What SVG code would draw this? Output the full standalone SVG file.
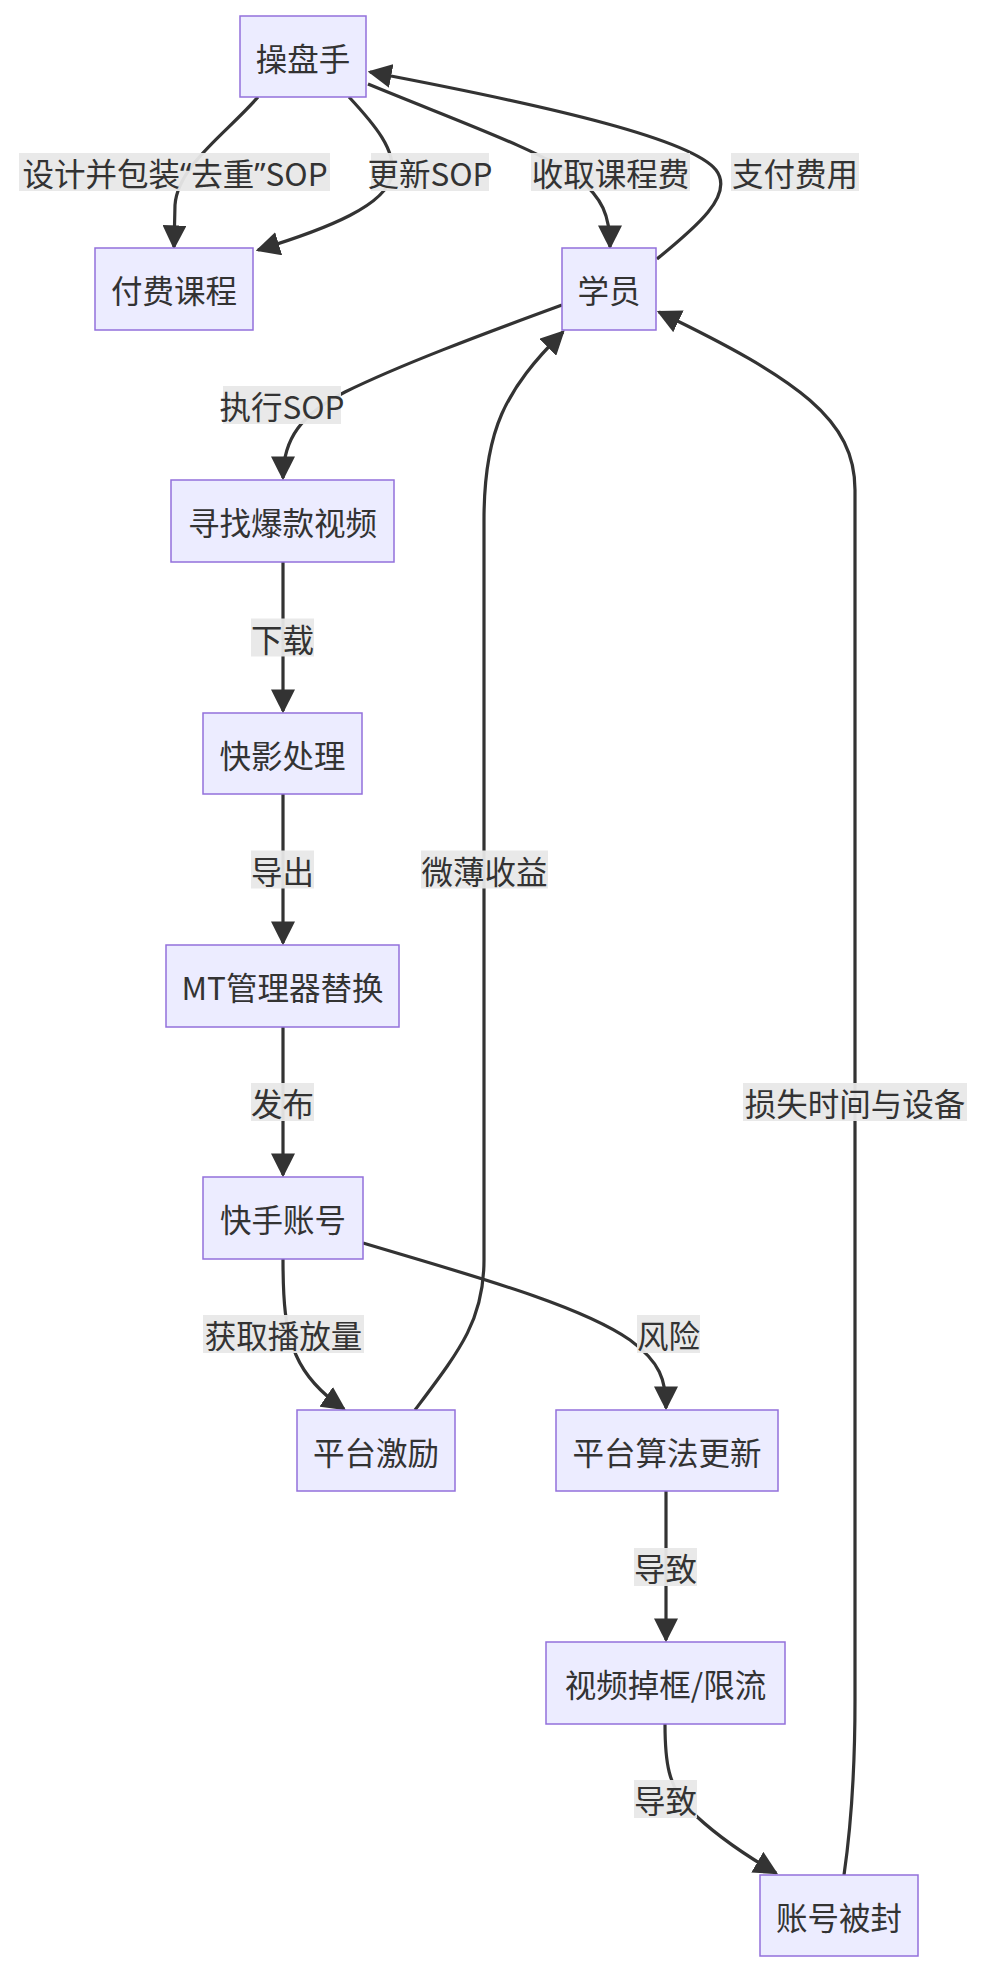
<svg xmlns="http://www.w3.org/2000/svg" width="984" height="1974" viewBox="0 0 984 1974">
<style>
.node rect{fill:#ECECFF;stroke:#9370DB;stroke-width:1.5}
text{font-family:"Noto Sans CJK SC","Noto Sans",sans-serif;font-size:31.5px;fill:#333333;text-anchor:middle;dominant-baseline:central}
.q{font-family:"Noto Sans","Liberation Sans",sans-serif}
.edge{fill:none;stroke:#333333;stroke-width:3.2}
.lbl rect{fill:#e8e8e8;fill-opacity:0.95}
</style>
<defs>
<marker id="arr" viewBox="0 0 10 10" refX="9" refY="5" markerUnits="userSpaceOnUse" markerWidth="24" markerHeight="24" orient="auto">
<path d="M0,0 L10,5 L0,10 z" fill="#333333"/>
</marker>
</defs>
<rect width="984" height="1974" fill="#ffffff"/>
<g id="edges">
<path class="edge" marker-end="url(#arr)" d="M258,97 C228,132 178,165 175,205 L174,247"/>
<path class="edge" marker-end="url(#arr)" d="M349,97 C375,125 396,150 392,175 C386,205 330,228 258,250"/>
<path class="edge" marker-end="url(#arr)" d="M368,84 C460,122 540,150 578,178 C602,198 610,215 610,247"/>
<path class="edge" marker-end="url(#arr)" d="M657,259 C695,228 735,195 716,170 C692,140 560,108 370,72"/>
<path class="edge" marker-end="url(#arr)" d="M562,305 C480,335 400,365 345,392 C302,414 283,438 283,478"/>
<path class="edge" marker-end="url(#arr)" d="M415,1410 C460,1350 484,1320 484,1260 L484,520 C484,430 505,390 563,332"/>
<path class="edge" marker-end="url(#arr)" d="M283,562 L283,711"/>
<path class="edge" marker-end="url(#arr)" d="M283,794 L283,943"/>
<path class="edge" marker-end="url(#arr)" d="M283,1027 L283,1175"/>
<path class="edge" marker-end="url(#arr)" d="M283,1259 C283,1300 285,1330 296,1355 C306,1378 322,1394 344,1409"/>
<path class="edge" marker-end="url(#arr)" d="M363,1243 C470,1275 580,1305 630,1340 C660,1362 666,1380 666,1408"/>
<path class="edge" marker-end="url(#arr)" d="M666,1491 L666,1640"/>
<path class="edge" marker-end="url(#arr)" d="M665,1724 C665,1762 668,1786 690,1810 C714,1834 745,1855 776,1873"/>
<path class="edge" marker-end="url(#arr)" d="M844,1875 C852,1820 855,1760 855,1700 L855,490 C855,420 800,380 659,312"/>
</g>
<g id="edge-labels">
<g class="lbl"><rect x="19" y="153" width="311" height="38"/><text x="175" y="172">设计并包装<tspan class="q">“</tspan>去重<tspan class="q">”</tspan>SOP</text></g>
<g class="lbl"><rect x="371" y="153" width="118" height="38"/><text x="430" y="172">更新SOP</text></g>
<g class="lbl"><rect x="531" y="153" width="159" height="38"/><text x="610.5" y="172">收取课程费</text></g>
<g class="lbl"><rect x="731" y="153" width="128" height="38"/><text x="795" y="172">支付费用</text></g>
<g class="lbl"><rect x="223" y="386" width="118" height="38"/><text x="282" y="405">执行SOP</text></g>
<g class="lbl"><rect x="251" y="618.5" width="63" height="38"/><text x="282.5" y="637.5">下载</text></g>
<g class="lbl"><rect x="251" y="850.5" width="63" height="38"/><text x="282.5" y="869.5">导出</text></g>
<g class="lbl"><rect x="421" y="850.5" width="127" height="38"/><text x="484.5" y="869.5">微薄收益</text></g>
<g class="lbl"><rect x="251" y="1083" width="63" height="38"/><text x="282.5" y="1102">发布</text></g>
<g class="lbl"><rect x="743" y="1083" width="224" height="38"/><text x="855" y="1102">损失时间与设备</text></g>
<g class="lbl"><rect x="203" y="1315" width="161" height="38"/><text x="283.5" y="1334">获取播放量</text></g>
<g class="lbl"><rect x="637" y="1315" width="63" height="38"/><text x="668.5" y="1334">风险</text></g>
<g class="lbl"><rect x="634" y="1548" width="63" height="38"/><text x="665.5" y="1567">导致</text></g>
<g class="lbl"><rect x="634" y="1780" width="63" height="38"/><text x="665.5" y="1799">导致</text></g>
</g>
<g id="n1" class="node"><rect x="240" y="16" width="126" height="81"/><text x="303" y="56.5">操盘手</text></g>
<g id="n2" class="node"><rect x="95" y="248" width="158" height="82"/><text x="174" y="289">付费课程</text></g>
<g id="n3" class="node"><rect x="562" y="248" width="94" height="82"/><text x="609" y="289">学员</text></g>
<g id="n4" class="node"><rect x="171" y="480" width="223" height="82"/><text x="282.5" y="521">寻找爆款视频</text></g>
<g id="n5" class="node"><rect x="203" y="713" width="159" height="81"/><text x="282.5" y="753.5">快影处理</text></g>
<g id="n6" class="node"><rect x="166" y="945" width="233" height="82"/><text x="282.5" y="986">MT管理器替换</text></g>
<g id="n7" class="node"><rect x="203" y="1177" width="160" height="82"/><text x="283" y="1218">快手账号</text></g>
<g id="n8" class="node"><rect x="297" y="1410" width="158" height="81"/><text x="376" y="1450.5">平台激励</text></g>
<g id="n9" class="node"><rect x="556" y="1410" width="222" height="81"/><text x="667" y="1450.5">平台算法更新</text></g>
<g id="n10" class="node"><rect x="546" y="1642" width="239" height="82"/><text x="665.5" y="1683">视频掉框/限流</text></g>
<g id="n11" class="node"><rect x="760" y="1875" width="158" height="81"/><text x="839" y="1915.5">账号被封</text></g>
</svg>
